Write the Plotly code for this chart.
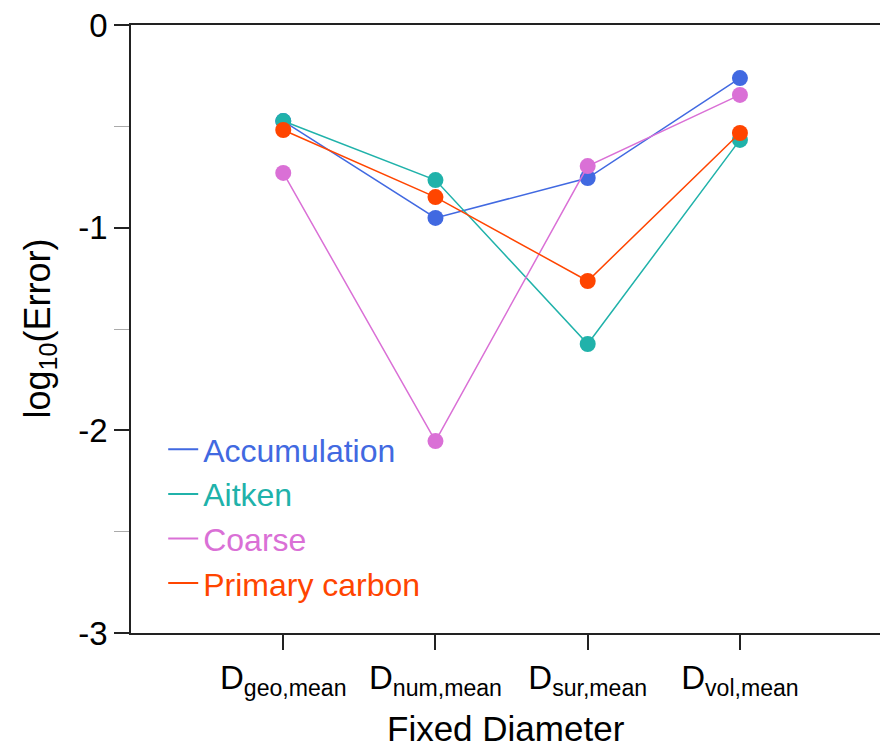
import plotly.graph_objects as go

categories = ["D<sub>geo,mean</sub>", "D<sub>num,mean</sub>", "D<sub>sur,mean</sub>", "D<sub>vol,mean</sub>"]
series_names = ["Accumulation", "Aitken", "Coarse", "Primary carbon"]
accumulation = [-0.474, -0.952, -0.755, -0.262]
aitken = [-0.474, -0.765, -1.574, -0.567]
coarse = [-0.730, -2.053, -0.696, -0.345]
primary_carbon = [-0.518, -0.849, -1.263, -0.533]
colors = ["#4169E1", "#20B2AA", "#DA70D6", "#FF4500"]
y_ticks = [0, -1, -2, -3]
y_tick_labels = ["0", "-1", "-2", "-3"]

values = [accumulation, aitken, coarse, primary_carbon]
xpos = list(range(len(categories)))
FONT = "Liberation Sans, Arial, Helvetica, sans-serif"

fig = go.Figure()
for name, vals, col in zip(series_names, values, colors):
    fig.add_trace(go.Scatter(
        x=xpos, y=vals, mode="lines+markers", showlegend=False,
        line=dict(color=col, width=1.5),
        marker=dict(color=col, size=16, line=dict(width=0)),
    ))
for name, col in zip(series_names, colors):
    fig.add_trace(go.Scatter(
        x=[None], y=[None], mode="lines",
        name=f'<span style="color:{col}">{name}</span>',
        line=dict(color=col, width=2),
    ))

fig.update_layout(
    width=880, height=750,
    margin=dict(l=131, r=0, t=25, b=117, autoexpand=False),
    paper_bgcolor="white", plot_bgcolor="white",
    font=dict(family=FONT, size=30, color="black"),
    legend=dict(x=0.043, y=0.347, xanchor="left", yanchor="top",
                bgcolor="rgba(0,0,0,0)", font=dict(size=32),
                itemwidth=30, tracegroupgap=0),
    xaxis=dict(
        range=[-1, 3.92], tickmode="array", tickvals=xpos, ticktext=categories,
        showline=True, linecolor="#222", linewidth=1.5, mirror=True,
        ticks="outside", ticklen=15, tickwidth=1.5, tickcolor="#222",
        showgrid=False, zeroline=False, automargin=False,
        tickfont=dict(size=33),
    ),
    yaxis=dict(
        range=[-3, 0], tickmode="array", tickvals=y_ticks, ticktext=y_tick_labels,
        showline=True, linecolor="#222", linewidth=1.5, mirror=False,
        ticks="outside", ticklen=15, tickwidth=1.5, tickcolor="#222",
        showgrid=False, zeroline=False, automargin=False,
        tickfont=dict(size=33),
        minor=dict(dtick=0.5, tick0=0, ticks="outside", ticklen=15,
                   tickwidth=1, tickcolor="#aaa", showgrid=False),
    ),
    annotations=[
        dict(text="Fixed Diameter", xref="paper", yref="paper",
             x=0.5, y=-0.157, xanchor="center", yanchor="middle",
             showarrow=False, font=dict(size=35)),
        dict(text="log<sub>10</sub>(Error)", xref="paper", yref="paper",
             x=-0.122, y=0.5, xanchor="center", yanchor="middle",
             textangle=-90, showarrow=False, font=dict(size=36)),
    ],
)

fig.write_html("out.html", config={"displayModeBar": False},
               post_script="document.body.style.margin='0';document.body.style.overflow='hidden';")
